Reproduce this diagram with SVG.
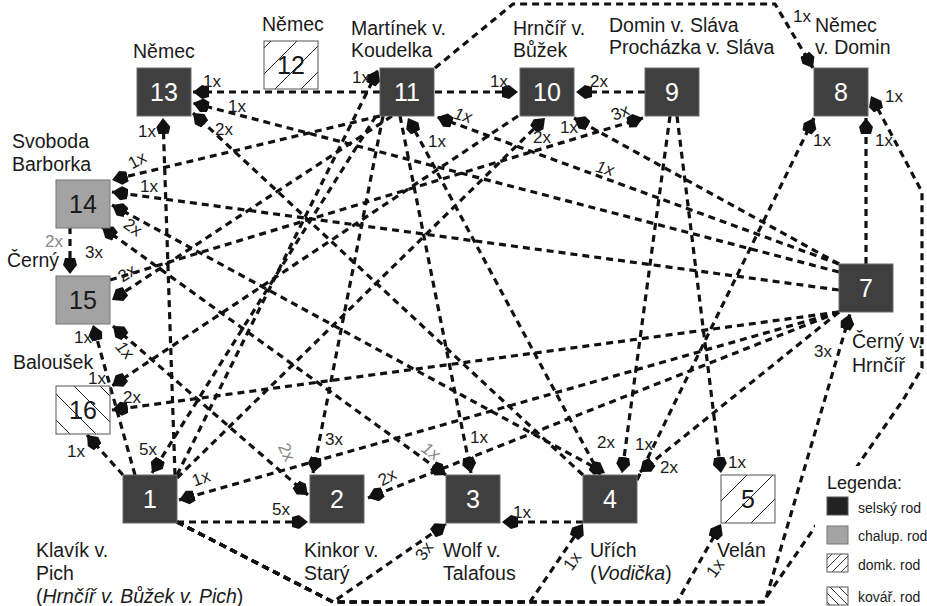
<svg xmlns="http://www.w3.org/2000/svg" width="927" height="606" viewBox="0 0 927 606">
<style>
.e{fill:none;stroke:#111;stroke-width:3.2;stroke-dasharray:7 5;marker-end:url(#ah)}
.b{marker-start:url(#ah)}
.sel{fill:#3f3f3f;stroke:#6a6a6a;stroke-width:1}
.cha{fill:#a3a3a3;stroke:#777;stroke-width:1}
.dom{fill:url(#pd);stroke:#555;stroke-width:1}
.kov{fill:url(#pk);stroke:#555;stroke-width:1}
text{font-family:"Liberation Sans",Arial,sans-serif;fill:#1a1a1a}
.num{font-size:25px;text-anchor:middle}
.w{fill:#fff}
.n{font-size:19.5px}
.l{font-size:17px}
.c{text-anchor:middle}
.g{fill:#888}
.lg{font-size:14px}
</style>
<defs>
<marker id="ah" viewBox="0 -8 17 16" refX="16" refY="0" markerWidth="17" markerHeight="16" markerUnits="userSpaceOnUse" orient="auto-start-reverse">
<path d="M0,-5 L7,-7 L16,0 L7,7 L0,5 Z" fill="#111"/>
</marker>
<pattern id="pd" patternUnits="userSpaceOnUse" width="26" height="26"><path d="M-6,6 L6,-6 M0,26 L26,0 M20,32 L32,20" stroke="#222" stroke-width="1"/></pattern>
<pattern id="pk" patternUnits="userSpaceOnUse" width="26" height="26"><path d="M-6,20 L6,32 M0,0 L26,26 M20,-6 L32,6" stroke="#222" stroke-width="1"/></pattern>
<pattern id="pds" patternUnits="userSpaceOnUse" width="9" height="9"><path d="M-2,2 L2,-2 M0,9 L9,0 M7,11 L11,7" stroke="#222" stroke-width="0.9"/></pattern>
<pattern id="pks" patternUnits="userSpaceOnUse" width="9" height="9"><path d="M-2,7 L2,11 M0,0 L9,9 M7,-2 L11,2" stroke="#222" stroke-width="0.9"/></pattern>
</defs>
<rect width="927" height="606" fill="#fff"/>
<g id="edges">
<path class="e" d="M380,92 L193,92"/>
<path class="e" d="M435,92 L518,92"/>
<path class="e" d="M645,92 L576,92"/>
<path class="e" d="M435,68 L513,4 L775,4 L813,68"/>
<path class="e" d="M839,272 L193,103"/>
<path class="e" d="M583,475 L193,113"/>
<path class="e" d="M175,475 L163,118"/>
<path class="e" d="M177,475 L378,70"/>
<path class="e" d="M600,475 L408,118"/>
<path class="e" d="M839,264 L437,117"/>
<path class="e" d="M177,478 L545,118"/>
<path class="e" d="M518,116 L112,386"/>
<path class="e" d="M839,264 L574,118"/>
<path class="e" d="M110,280 L643,118"/>
<path class="e" d="M866,264 L866,118"/>
<path class="e" d="M637,480 L814,118"/>
<path class="e" d="M177,522 L333,602 L763,602 L903,400 L922,368 L922,192 L871,96"/>
<path class="e" d="M177,522 L333,602 L765,602 L850,314"/>
<path class="e" d="M177,522 L333,602 L446,524"/>
<path class="e" d="M177,522 L333,602 L530,602 L583,524"/>
<path class="e" d="M177,522 L333,602 L677,602 L721,524"/>
<path class="e" d="M583,522 L502,522"/>
<path class="e" d="M177,522 L308,522"/>
<path class="e" d="M670,116 L622,473"/>
<path class="e" d="M677,116 L721,473"/>
<path class="e" d="M839,312 L640,472"/>
<path class="e" d="M839,312 L368,498"/>
<path class="e" d="M839,312 L179,500"/>
<path class="e" d="M839,312 L112,410"/>
<path class="e" d="M839,290 L112,192"/>
<path class="e" d="M380,116 L112,180"/>
<path class="e b" d="M112,205 L605,473"/>
<path class="e" d="M70,227 L70,274"/>
<path class="e b" d="M102,227 L446,475"/>
<path class="e" d="M392,116 L112,300"/>
<path class="e" d="M135,475 L93,325"/>
<path class="e b" d="M113,326 L308,495"/>
<path class="e" d="M123,475 L87,435"/>
<path class="e" d="M376,116 L152,473"/>
<path class="e" d="M383,116 L313,473"/>
<path class="e" d="M400,116 L471,473"/>
</g>
<g id="n13"><rect class="sel" x="137" y="68" width="54" height="48"/><text class="num w" x="164" y="101">13</text><text class="n" x="133" y="58">Němec</text></g>
<g id="n12"><rect class="dom" x="264" y="41" width="54" height="48"/><text class="num" x="291" y="74">12</text><text class="n" x="262" y="31">Němec</text></g>
<g id="n11"><rect class="sel" x="380" y="68" width="54" height="48"/><text class="num w" x="407" y="101">11</text><text class="n" x="351" y="35">Martínek v.</text><text class="n" x="351" y="57">Koudelka</text></g>
<g id="n10"><rect class="sel" x="520" y="68" width="54" height="48"/><text class="num w" x="547" y="101">10</text><text class="n" x="513" y="35">Hrnčíř v.</text><text class="n" x="513" y="57">Bůžek</text></g>
<g id="n9"><rect class="sel" x="645" y="68" width="54" height="48"/><text class="num w" x="672" y="101">9</text><text class="n" x="609" y="32">Domin v. Sláva</text><text class="n" x="609" y="54">Procházka v. Sláva</text></g>
<g id="n8"><rect class="sel" x="814" y="68" width="54" height="48"/><text class="num w" x="841" y="101">8</text><text class="n" x="815" y="32">Němec</text><text class="n" x="815" y="54">v. Domin</text></g>
<g id="n14"><rect class="cha" x="56" y="180" width="54" height="48"/><text class="num" x="83" y="213">14</text><text class="n" x="12" y="148">Svoboda</text><text class="n" x="12" y="171">Barborka</text></g>
<g id="n15"><rect class="cha" x="56" y="276" width="54" height="48"/><text class="num" x="83" y="309">15</text><text class="n" x="7" y="267">Černý</text></g>
<g id="n16"><rect class="kov" x="56" y="386" width="54" height="48"/><text class="num" x="83" y="419">16</text><text class="n" x="13" y="369">Baloušek</text></g>
<g id="n7"><rect class="sel" x="839" y="264" width="54" height="48"/><text class="num w" x="866" y="297">7</text><text class="n" x="852" y="348">Černý v.</text><text class="n" x="852" y="372">Hrnčíř</text></g>
<g id="n1"><rect class="sel" x="123" y="475" width="54" height="48"/><text class="num w" x="150" y="508">1</text><text class="n" x="36" y="557">Klavík v.</text><text class="n" x="36" y="580">Pich</text><text class="n" x="36" y="603">(<tspan font-style="italic">Hrnčíř v. Bůžek v. Pich</tspan>)</text></g>
<g id="n2"><rect class="sel" x="310" y="475" width="54" height="48"/><text class="num w" x="337" y="508">2</text><text class="n" x="304" y="557">Kinkor v.</text><text class="n" x="304" y="580">Starý</text></g>
<g id="n3"><rect class="sel" x="446" y="475" width="54" height="48"/><text class="num w" x="473" y="508">3</text><text class="n" x="443" y="557">Wolf v.</text><text class="n" x="443" y="580">Talafous</text></g>
<g id="n4"><rect class="sel" x="583" y="475" width="54" height="48"/><text class="num w" x="610" y="508">4</text><text class="n" x="590" y="557">Uřích</text><text class="n" x="590" y="580">(<tspan font-style="italic">Vodička</tspan>)</text></g>
<g id="n5"><rect class="dom" x="721" y="475" width="54" height="48"/><text class="num" x="748" y="508">5</text><text class="n" x="717" y="557">Velán</text></g>
<g id="labels">
<text class="l" x="203" y="87">1x</text>
<text class="l" x="228" y="112">1x</text>
<text class="l" x="215" y="135">2x</text>
<text class="l" x="138" y="137">1x</text>
<text class="l" x="352" y="83">1x</text>
<text class="l" x="490" y="87">1x</text>
<text class="l" x="590" y="87">2x</text>
<text class="l c" x="463" y="121" font-style="italic" transform="rotate(15 463 115)">1x</text>
<text class="l" x="428" y="147">1x</text>
<text class="l" x="533" y="143">2x</text>
<text class="l" x="560" y="133">1x</text>
<text class="l c" x="620" y="118" transform="rotate(-22 620 112)">3x</text>
<text class="l c" x="605" y="174" font-style="italic" transform="rotate(15 605 168)">1x</text>
<text class="l" x="793" y="22">1x</text>
<text class="l" x="885" y="102">1x</text>
<text class="l" x="813" y="146">1x</text>
<text class="l" x="875" y="146">1x</text>
<text class="l c" x="137" y="166" transform="rotate(-28 137 160)">1x</text>
<text class="l" x="140" y="192">1x</text>
<text class="l c" x="133" y="233" transform="rotate(35 133 227)">2x</text>
<text class="l" x="85" y="258">3x</text>
<text class="l g" x="45" y="247">2x</text>
<text class="l c" x="127" y="279" transform="rotate(-32 127 273)">2x</text>
<text class="l" x="74" y="343">1x</text>
<text class="l c" x="125" y="356" font-style="italic" transform="rotate(48 125 350)">1x</text>
<text class="l" x="88" y="384">1x</text>
<text class="l" x="123" y="403">2x</text>
<text class="l" x="67" y="457">1x</text>
<text class="l" x="139" y="455">5x</text>
<text class="l c" x="201" y="484" transform="rotate(-20 201 478)">1x</text>
<text class="l" x="325" y="445">3x</text>
<text class="l c g" x="287" y="458" transform="rotate(65 287 452)">2x</text>
<text class="l" x="272" y="515">5x</text>
<text class="l c" x="387" y="483" transform="rotate(-28 387 477)">2x</text>
<text class="l c g" x="431" y="457" font-style="italic" transform="rotate(35 431 451)">1x</text>
<text class="l" x="470" y="443">1x</text>
<text class="l" x="513" y="518">1x</text>
<text class="l c" x="424" y="557" transform="rotate(-55 424 551)">3x</text>
<text class="l" x="597" y="448">2x</text>
<text class="l" x="635" y="450">1x</text>
<text class="l" x="660" y="473">2x</text>
<text class="l c" x="572" y="567" transform="rotate(-55 572 561)">1x</text>
<text class="l" x="728" y="468">1x</text>
<text class="l c" x="715" y="574" transform="rotate(-55 715 568)">1x</text>
<text class="l" x="814" y="357">3x</text>
</g>
<g id="legend">
<rect x="815" y="466" width="112" height="140" fill="#fff"/>
<text x="827" y="489" font-size="18px">Legenda:</text>
<rect x="827" y="497" width="21" height="18" fill="#222" stroke="#555"/>
<text class="lg" x="858" y="513">selský rod</text>
<rect x="827" y="526" width="21" height="18" fill="#a3a3a3" stroke="#777"/>
<text class="lg" x="858" y="541">chalup. rod</text>
<rect x="827" y="554" width="21" height="18" fill="url(#pds)" stroke="#555"/>
<text class="lg" x="858" y="570">domk. rod</text>
<rect x="827" y="587" width="21" height="18" fill="url(#pks)" stroke="#555"/>
<text class="lg" x="858" y="602">kovář. rod</text>
</g>
</svg>
